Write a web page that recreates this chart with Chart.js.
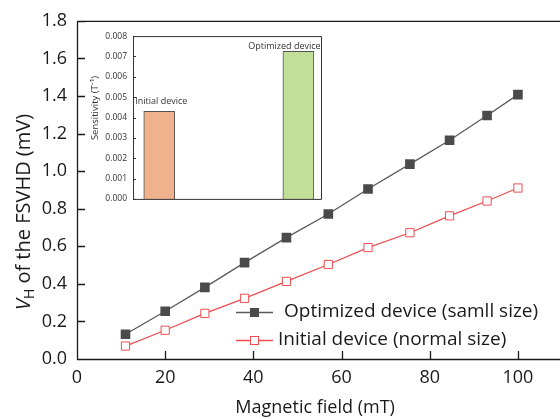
<!DOCTYPE html>
<html lang="en">
  <head>
    <meta charset="utf-8" />
    <title>FSVHD Hall voltage</title>
    <style>
      * {
        margin: 0;
        padding: 0;
      }
      body {
        background: white;
      }
      .chartBox {
        position: relative;
        width: 560px;
        height: 419px;
      }
      #mainChart {
        position: absolute;
        left: 0;
        top: 0;
      }
      .insetBox {
        position: absolute;
        left: 85px;
        top: 25px;
        width: 250px;
        height: 185px;
      }
    </style>
  </head>
  <body>
    <div class="chartBox">
      <canvas id="mainChart" width="560" height="419"></canvas>
      <div class="insetBox">
        <canvas id="insetChart" width="250" height="185"></canvas>
      </div>
    </div>
    <script src="https://cdn.jsdelivr.net/npm/chart.js"></script>
    <script>
      const fontFamily = "'Open Sans', 'Noto Sans', sans-serif";

      // main chart data
      const field = [11, 20, 29, 38, 47.5, 57, 66, 75.5, 84.5, 93, 100];
      const optimized = [0.132, 0.254, 0.381, 0.513, 0.646, 0.772, 0.905, 1.037, 1.164, 1.296, 1.407];
      const initial = [0.069, 0.153, 0.243, 0.323, 0.413, 0.503, 0.593, 0.672, 0.762, 0.841, 0.91];
      const seriesNames = ["Optimized device (samll size)", "Initial device (normal size)"];

      // inset data
      const insetNames = ["Initial device", "Optimized device"];
      const insetX = [1, 6.3];
      const sensitivity = [0.0043, 0.00725];

      const darkColor = "#4a4a4a";
      const redColor = "#ef4d52";

      // axis lines + inward tick marks
      const frame = {
        id: "frame",
        afterDraw(chart, args, opts) {
          const { ctx, chartArea: a } = chart;
          ctx.save();
          ctx.strokeStyle = opts.color;
          ctx.lineWidth = opts.width;
          ctx.beginPath();
          if (opts.box) {
            ctx.rect(a.left + 0.5, a.top + 0.5, a.right - a.left - 1, a.bottom - a.top);
          } else {
            ctx.moveTo(a.left + 0.5, a.top + 0.5);
            ctx.lineTo(a.left + 0.5, a.bottom + 0.5);
            ctx.lineTo(chart.width, a.bottom + 0.5);
            ctx.moveTo(a.left, a.top + 0.5);
            ctx.lineTo(chart.width, a.top + 0.5);
          }
          const y = chart.scales.y;
          y.ticks.forEach((t) => {
            const py = Math.round(y.getPixelForValue(t.value)) + 0.5;
            ctx.moveTo(a.left, py);
            ctx.lineTo(a.left + opts.tick, py);
          });
          if (chart.scales.x.options.display) {
            const x = chart.scales.x;
            x.ticks.forEach((t) => {
              if (t.value === 0) return;
              const px = Math.round(x.getPixelForValue(t.value)) + 0.5;
              ctx.moveTo(px, a.bottom);
              ctx.lineTo(px, a.bottom - opts.tick);
            });
          }
          ctx.stroke();
          ctx.restore();
        },
      };

      // y title with subscript and the legend
      const mainDecor = {
        id: "mainDecor",
        afterDraw(chart) {
          const { ctx } = chart;
          ctx.save();
          ctx.fillStyle = "#1a1a1a";
          // y title
          ctx.translate(24, 212);
          ctx.rotate(-Math.PI / 2);
          ctx.textBaseline = "middle";
          const f1 = "italic 20px " + fontFamily;
          const f2 = "14px " + fontFamily;
          const f3 = "20px " + fontFamily;
          ctx.font = f1;
          const w1 = ctx.measureText("V").width;
          ctx.font = f2;
          const w2 = ctx.measureText("H").width;
          ctx.font = f3;
          const rest = " of the FSVHD (mV)";
          const w3 = ctx.measureText(rest).width;
          let sx = -(w1 + w2 + w3) / 2;
          ctx.font = f1;
          ctx.fillText("V", sx, 0);
          ctx.font = f2;
          ctx.fillText("H", sx + w1, 6);
          ctx.font = f3;
          ctx.fillText(rest, sx + w1 + w2, 0);
          ctx.restore();

          // legend
          const rows = [
            { y: 312, color: "#5a5a5a", fill: darkColor, stroke: darkColor, tx: 284 },
            { y: 340, color: redColor, fill: "#ffffff", stroke: redColor, tx: 278 },
          ];
          ctx.save();
          ctx.font = "19px " + fontFamily;
          ctx.textBaseline = "middle";
          rows.forEach((r, i) => {
            ctx.strokeStyle = r.color;
            ctx.lineWidth = 1.3;
            ctx.beginPath();
            ctx.moveTo(236, r.y + 0.5);
            ctx.lineTo(273, r.y + 0.5);
            ctx.stroke();
            ctx.fillStyle = r.fill;
            ctx.fillRect(250, r.y - 4, 9, 9);
            ctx.strokeStyle = r.stroke;
            ctx.lineWidth = 1;
            ctx.strokeRect(250.5, r.y - 3.5, 8, 8);
            ctx.fillStyle = "#1a1a1a";
            ctx.fillText(seriesNames[i], r.tx, r.y);
          });
          ctx.restore();
        },
      };

      const mainChart = new Chart(document.getElementById("mainChart"), {
        type: "line",
        data: {
          labels: field,
          datasets: [
            {
              label: seriesNames[0],
              data: field.map((x, i) => ({ x, y: optimized[i] })),
              borderColor: "#5a5a5a",
              borderWidth: 1.3,
              pointStyle: "rect",
              pointRadius: 6.8,
              pointBackgroundColor: darkColor,
              pointBorderColor: darkColor,
              pointBorderWidth: 0,
            },
            {
              label: seriesNames[1],
              data: field.map((x, i) => ({ x, y: initial[i] })),
              borderColor: redColor,
              borderWidth: 1.3,
              pointStyle: "rect",
              pointRadius: 5.8,
              pointBackgroundColor: "#ffffff",
              pointBorderColor: redColor,
              pointBorderWidth: 1,
            },
          ],
        },
        options: {
          responsive: false,
          animation: false,
          layout: { padding: { top: 19, right: 0, left: 0, bottom: 0 } },
          plugins: {
            legend: { display: false },
            tooltip: { enabled: false },
            frame: { color: "#1a1a1a", width: 1.3, tick: 8, box: false },
          },
          scales: {
            x: {
              type: "linear",
              min: 0,
              max: 108,
              grid: { display: false, drawTicks: false },
              border: { display: false },
              ticks: {
                stepSize: 20,
                includeBounds: false,
                padding: 8,
                color: "#1a1a1a",
                font: { family: fontFamily, size: 18 },
                maxRotation: 0,
              },
              title: {
                display: true,
                text: "Magnetic field (mT)",
                color: "#1a1a1a",
                font: { family: fontFamily, size: 18 },
                padding: { top: 4, bottom: 0 },
              },
              afterFit(scale) {
                scale.height = 60;
              },
            },
            y: {
              min: 0,
              max: 1.8,
              grid: { display: false, drawTicks: false },
              border: { display: false },
              ticks: {
                stepSize: 0.2,
                padding: 10,
                color: "#1a1a1a",
                font: { family: fontFamily, size: 18 },
                callback: (v) => v.toFixed(1),
              },
              afterFit(scale) {
                scale.width = 77;
              },
            },
          },
        },
        plugins: [frame, mainDecor],
      });

      // inset labels
      const insetDecor = {
        id: "insetDecor",
        afterDraw(chart) {
          const { ctx } = chart;
          const bars = chart.getDatasetMeta(0).data;
          ctx.save();
          ctx.fillStyle = "#333";
          ctx.font = "9px " + fontFamily;
          ctx.textBaseline = "alphabetic";
          ctx.textAlign = "left";
          ctx.fillText(insetNames[0], bars[0].x - 24, bars[0].y - 7);
          ctx.textAlign = "center";
          ctx.fillText(insetNames[1], bars[1].x - 14, bars[1].y - 2.5);
          ctx.translate(10, 83);
          ctx.rotate(-Math.PI / 2);
          ctx.textBaseline = "middle";
          ctx.font = "9.5px " + fontFamily;
          ctx.fillText("Sensitivity (T\u207B\u00B9)", 0, 0);
          ctx.restore();
        },
      };

      const insetChart = new Chart(document.getElementById("insetChart"), {
        type: "bar",
        data: {
          datasets: [
            {
              data: insetX.map((x, i) => ({ x, y: sensitivity[i] })),
              backgroundColor: ["#f0b28d", "#c2df9a"],
              borderColor: "#555",
              borderWidth: 1,
              borderSkipped: "bottom",
              barThickness: 31,
            },
          ],
        },
        options: {
          responsive: false,
          animation: false,
          layout: { padding: { top: 7, right: 13, left: 0, bottom: 7 } },
          plugins: {
            legend: { display: false },
            tooltip: { enabled: false },
            frame: { color: "#333", width: 1, tick: 3, box: true },
          },
          scales: {
            x: {
              type: "linear",
              min: 0,
              max: 7.2,
              offset: false,
              display: false,
            },
            y: {
              min: 0,
              max: 0.008,
              grid: { display: false, drawTicks: false },
              border: { display: false },
              ticks: {
                stepSize: 0.001,
                padding: 6,
                color: "#333",
                font: { family: fontFamily, size: 8.5 },
                callback: (v) => v.toFixed(3),
              },
              afterFit(scale) {
                scale.width = 48;
              },
            },
          },
        },
        plugins: [frame, insetDecor],
      });
    </script>
  </body>
</html>
